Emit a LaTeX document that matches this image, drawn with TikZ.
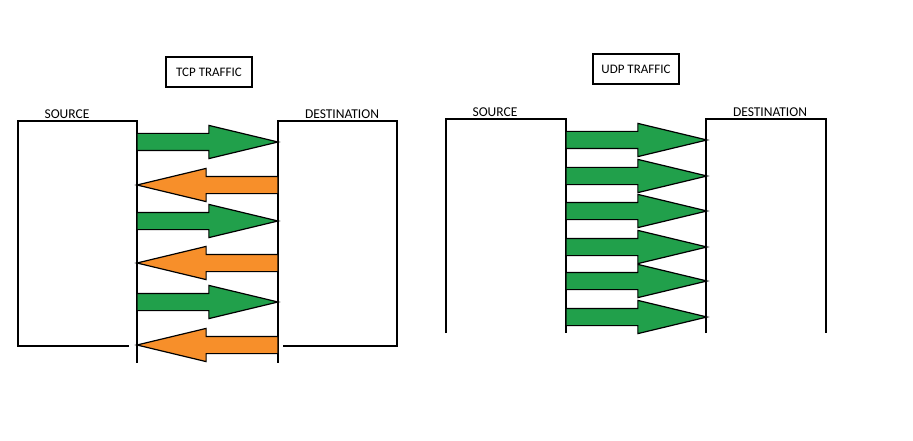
\documentclass[tikz,border=0pt]{standalone}
\usepackage{fontspec}
\setmainfont{Carlito}
\usetikzlibrary{shapes.arrows}
\definecolor{flowgreen}{RGB}{33,160,75}
\definecolor{floworange}{RGB}{247,143,42}

\begin{document}
\begin{tikzpicture}[x=1pt,y=-1pt]
\tikzset{
wall/.style={draw=black, line width=1.8pt},
title/.style={rectangle, draw=black, line width=1.4pt, minimum width=86pt, minimum height=30pt, inner sep=0pt, font=\fontsize{13}{15}\selectfont},
mylabel/.style={inner sep=0pt, font=\fontsize{13.5}{16}\selectfont},
packet/.style={single arrow, draw=black, line width=1.2pt, inner xsep=0pt, inner ysep=8pt, outer sep=0pt,
  single arrow head extend=8pt, single arrow tip angle=27, minimum height=141pt, anchor=tail},
data/.style={packet, fill=flowgreen},
ack/.style={packet, fill=floworange, shape border rotate=180},
}
\useasboundingbox (0,0) rectangle (913,441);

% TCP side
\node [title] (tcptitle) at (209,72) {TCP TRAFFIC};
\node [mylabel] (tcpsrc) at (67,114.5) {SOURCE};
\node [mylabel] (tcpdst) at (342,114.5) {DESTINATION};
\draw [wall] (129,346) -- (18,346) -- (18,121) -- (137,121) -- (137,363);
\draw [wall] (283,346) -- (397,346) -- (397,121) -- (278,121) -- (278,363);
\node [data] (tcpseg1) at (137,142) {};
\node [ack] (tcpack1) at (278,185) {};
\node [data] (tcpseg2) at (137,221) {};
\node [ack] (tcpack2) at (278,263) {};
\node [data] (tcpseg3) at (137,302) {};
\node [ack] (tcpack3) at (278,345) {};

% UDP side
\node [title] (udptitle) at (636,69) {UDP TRAFFIC};
\node [mylabel] (udpsrc) at (495,112.5) {SOURCE};
\node [mylabel] (udpdst) at (770,112.5) {DESTINATION};
\draw [wall] (446,333) -- (446,119) -- (566,119) -- (566,333);
\draw [wall] (706,333) -- (706,119) -- (826,119) -- (826,333);
\node [data] (udpseg1) at (566,140) {};
\node [data] (udpseg2) at (566,176) {};
\node [data] (udpseg3) at (566,211) {};
\node [data] (udpseg4) at (566,247) {};
\node [data] (udpseg5) at (566,281) {};
\node [data] (udpseg6) at (566,317) {};
\end{tikzpicture}
\end{document}
